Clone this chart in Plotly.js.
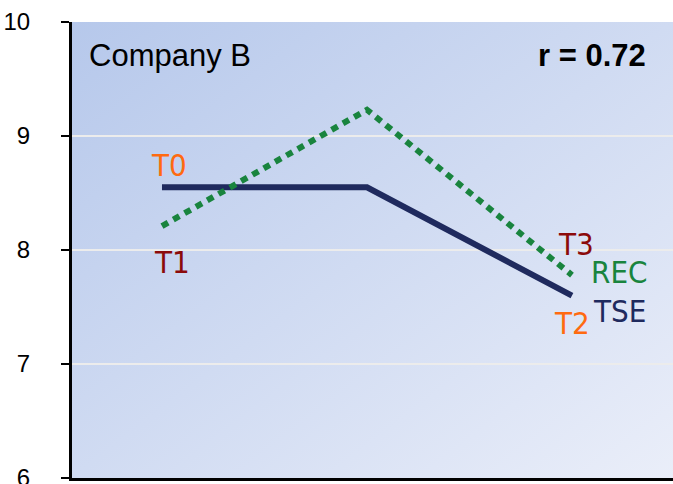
<!DOCTYPE html>
<html>
<head>
<meta charset="utf-8">
<script src="https://cdn.plot.ly/plotly-3.0.1.min.js"></script>
<style>html,body{margin:0;padding:0;background:#fff;}#chart{width:673px;height:484px;}</style>
</head>
<body>
<div id="chart"></div>
<script>
// Data
var timePoints = [0, 1, 2];
var tseValues = [8.55, 8.55, 7.60];
var recValues = [8.21, 9.23, 7.78];
var yTickVals = [6, 7, 8, 9, 10];
var yTickText = ['6', '7', '8', '9', '10'];
var chartTitle = 'Company B';
var corrText = 'r = 0.72';
var seriesNames = ['TSE', 'REC'];
var pointLabels = ['T0', 'T1', 'T2', 'T3'];

var narrow = 'Liberation Sans Narrow, Arial Narrow, DejaVu Sans Condensed, sans-serif';
var sans = 'Liberation Sans, Arial, sans-serif';

var gradSvg = '<svg xmlns="http://www.w3.org/2000/svg" width="100" height="100" preserveAspectRatio="none">' +
  '<defs><linearGradient id="g" x1="0" y1="0" x2="1" y2="1">' +
  '<stop offset="0" stop-color="#b6c8eb"/><stop offset="0.5" stop-color="#d0dbf2"/><stop offset="1" stop-color="#eaeef9"/>' +
  '</linearGradient></defs><rect width="100" height="100" fill="url(#g)"/></svg>';

var traces = [
  {x: timePoints, y: tseValues, name: seriesNames[0], mode: 'lines',
   line: {color: '#1f2a5e', width: 6}},
  {x: timePoints, y: recValues, name: seriesNames[1], mode: 'lines',
   line: {color: '#19843e', width: 6, dash: '7px,6px'}}
];

function lab(text, x, y, color, dx, dy) {
  return {x: x, y: y, xref: 'x', yref: 'y', text: text, showarrow: false,
    xanchor: 'center', yanchor: 'middle', xshift: dx, yshift: dy,
    font: {family: narrow, size: 31, color: color}};
}

var annotations = [
  lab(pointLabels[0], timePoints[0], tseValues[0], '#ff6a10', 7, 22),
  lab(pointLabels[1], timePoints[0], recValues[0], '#8b0a0a', 10, -36),
  lab(pointLabels[3], timePoints[2], recValues[2], '#8b0a0a', 4, 31),
  lab(seriesNames[1], timePoints[2], recValues[2], '#19843e', 47, 3),
  lab(seriesNames[0], timePoints[2], tseValues[2], '#1f2a5e', 48, -15),
  lab(pointLabels[2], timePoints[2], tseValues[2], '#ff6a10', 0, -27),
  {x: 0.025, y: 0.927, xref: 'paper', yref: 'paper', text: chartTitle, showarrow: false,
   xanchor: 'left', yanchor: 'middle', font: {family: sans, size: 31, color: '#000'}},
  {x: 0.958, y: 0.927, xref: 'paper', yref: 'paper', text: '<b>' + corrText + '</b>', showarrow: false,
   xanchor: 'right', yanchor: 'middle', font: {family: sans, size: 31, color: '#000'}}
];

var layout = {
  width: 673, height: 484,
  margin: {l: 72, r: 0, t: 22, b: 6, pad: 0},
  paper_bgcolor: '#ffffff',
  plot_bgcolor: 'rgba(0,0,0,0)',
  showlegend: false,
  xaxis: {range: [-0.439, 2.493], showgrid: false, zeroline: false, showticklabels: false,
    ticks: '', showline: true, linecolor: '#000', linewidth: 3},
  yaxis: {range: [6, 10], tickvals: yTickVals, ticktext: yTickText, showgrid: true,
    gridcolor: '#ececec', gridwidth: 2, zeroline: false, showline: true, linecolor: '#000',
    linewidth: 3, ticks: 'outside', ticklen: 8, tickwidth: 2, tickcolor: '#000',
    ticklabelstandoff: 26, ticklabeloverflow: 'allow',
    tickfont: {family: sans, size: 24, color: '#000'}},
  images: [{source: 'data:image/svg+xml;charset=utf-8,' + encodeURIComponent(gradSvg),
    xref: 'paper', yref: 'paper', x: 0, y: 1, sizex: 1, sizey: 1, sizing: 'stretch',
    xanchor: 'left', yanchor: 'top', layer: 'below'}],
  annotations: annotations
};

Plotly.newPlot('chart', traces, layout, {displayModeBar: false, staticPlot: true});
</script>
</body>
</html>
